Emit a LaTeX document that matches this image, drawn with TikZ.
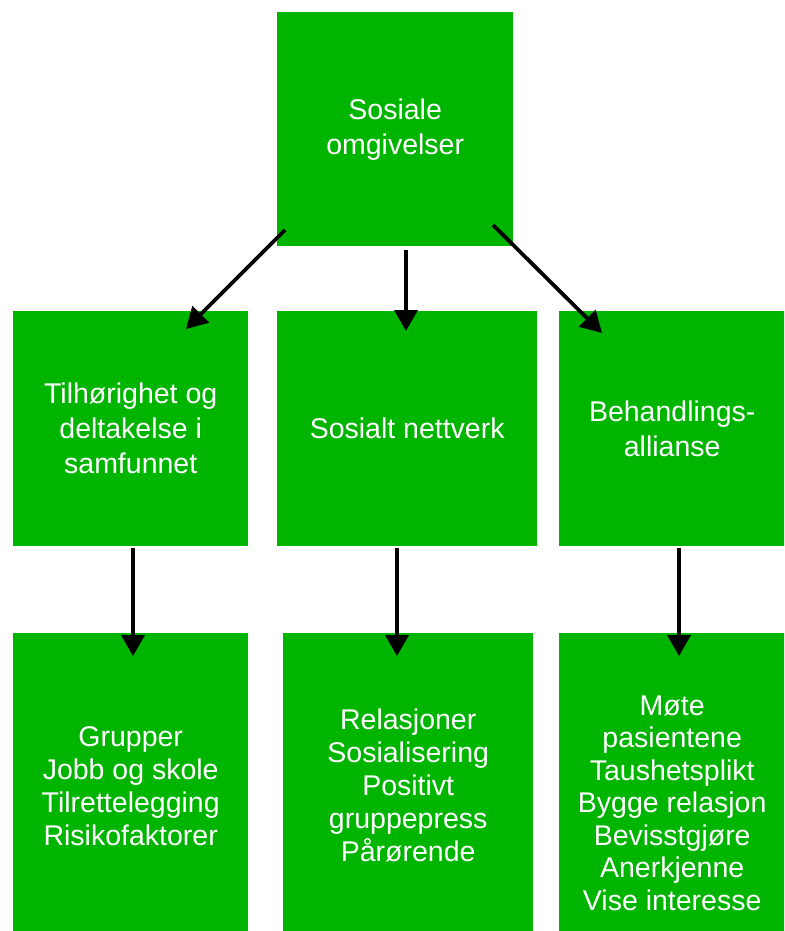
\documentclass[tikz,border=0pt]{standalone}
\usepackage{fontspec}
\setmainfont{Liberation Sans}
\usetikzlibrary{arrows.meta}
\definecolor{boxgreen}{RGB}{0,181,0}
\tikzset{
  gbox/.style={fill=boxgreen, draw=none, anchor=north west, inner sep=0pt,
    text=white, align=center, font=\fontsize{28.5}{35}\selectfont},
  arr/.style={line width=3.8pt, -{Triangle[length=21pt,width=23pt]}}
}
\begin{document}
\begin{tikzpicture}[x=1pt,y=-1pt]
\useasboundingbox (0,0) rectangle (784,931);
\clip (0,0) rectangle (784,931);
\fill[white] (0,0) rectangle (784,931);
% top
\node[gbox, minimum width=236pt, minimum height=234pt] (top) at (277,12) {Sosiale\\omgivelser};
% middle row
\node[gbox, minimum width=235pt, minimum height=235pt] (m1) at (13,311) {Tilhørighet og\\deltakelse i\\samfunnet};
\node[gbox, minimum width=260pt, minimum height=235pt] (m2) at (277,311) {Sosialt nettverk};
\node[gbox, minimum width=226pt, minimum height=235pt] (m3) at (559,311) {Behandlings-\\allianse};
% bottom row
\node[gbox, minimum width=235pt, minimum height=306pt, font=\fontsize{28.5}{33}\selectfont] (b1) at (13,633) {Grupper\\Jobb og skole\\Tilrettelegging\\Risikofaktorer};
\node[gbox, minimum width=250pt, minimum height=304pt, font=\fontsize{28.5}{33}\selectfont] (b2) at (283,633) {Relasjoner\\Sosialisering\\Positivt\\gruppepress\\Pårørende};
\node[gbox, minimum width=226pt, minimum height=340pt, font=\fontsize{28.5}{32.5}\selectfont] (b3) at (559,633) {Møte\\pasientene\\Taushetsplikt\\Bygge relasjon\\Bevisstgjøre\\Anerkjenne\\Vise interesse};
% arrow endpoints
\coordinate (s1) at (285,230);
\coordinate (e1) at (186,329);
\coordinate (s2) at (406,250);
\coordinate (e2) at (406,331);
\coordinate (s3) at (493,225);
\coordinate (e3) at (602,333);
\coordinate (t1) at (133,548);
\coordinate (u1) at (133,656);
\coordinate (t2) at (397,548);
\coordinate (u2) at (397,656);
\coordinate (t3) at (679,548);
\coordinate (u3) at (679,656);
\draw[arr] (s1) -- (e1);
\draw[arr] (s2) -- (e2);
\draw[arr] (s3) -- (e3);
\draw[arr] (t1) -- (u1);
\draw[arr] (t2) -- (u2);
\draw[arr] (t3) -- (u3);
\end{tikzpicture}
\end{document}
